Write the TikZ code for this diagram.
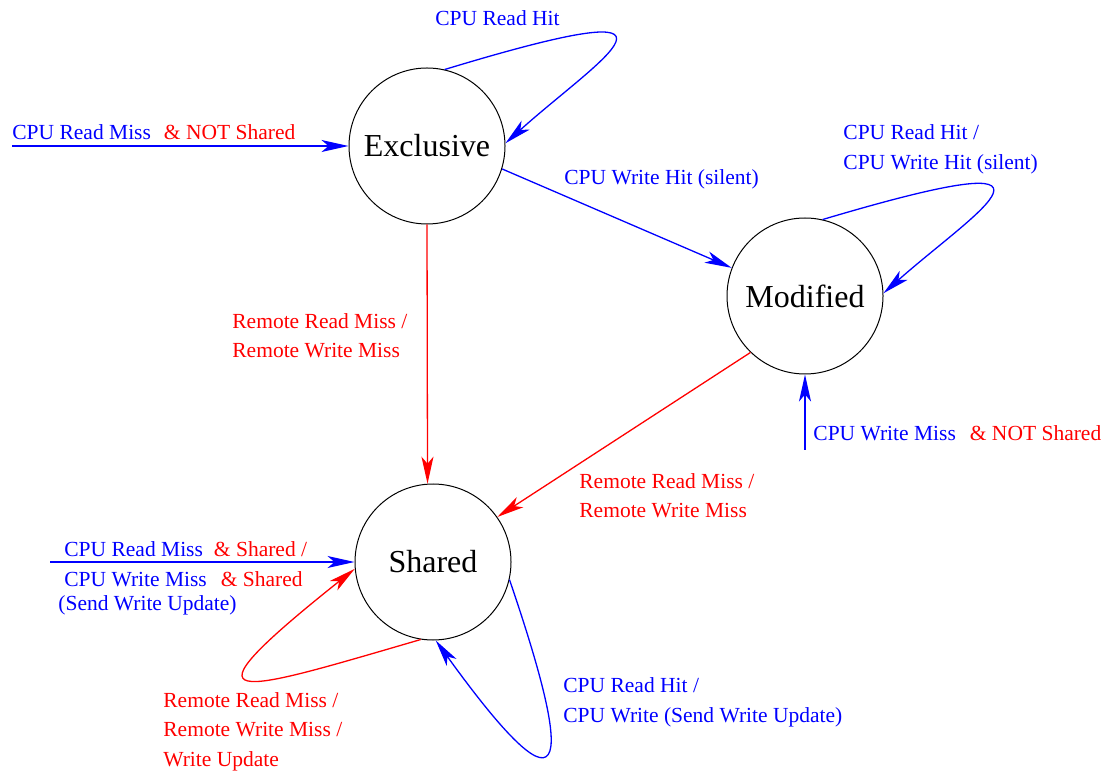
\documentclass[tikz,border=0pt]{standalone}
\usepackage{fontspec}
\setmainfont{Liberation Serif}
\usetikzlibrary{arrows.meta,positioning}

\tikzset{
  state/.style={circle,draw,line width=0.5pt,minimum size=78pt,inner sep=0pt,
    font=\fontsize{16}{19}\selectfont},
  trans/.style={line width=0.65pt,-{Stealth[length=13.5pt,width=6pt,inset=3.5pt]}},
  lbl/.style={anchor=base west,inner sep=0pt,font=\fontsize{10.75}{13}\selectfont},
}

\begin{document}
\begin{tikzpicture}[x=0.5pt,y=-0.5pt]
\useasboundingbox (0,0) rectangle (1107,774);
% states
\node[state] (E) at (427,146) {Exclusive};
\node[state] (M) at (805,296) {Modified};
\node[state] (S) at (433,562) {Shared};
% free ends of the entry arrows
\coordinate (inE) at (12,146);
\coordinate (inM) at (805,450);
\coordinate (inS) at (50,562);
% transitions
\draw[trans,blue] (inE) -- (E.west);
\draw[trans,blue] (E.77) .. controls (723,-15) and (598,60) .. (E.2);
\draw[trans,blue] (E.-17) -- (M.159);
\draw[trans,blue] (M.77) .. controls (1100,137) and (975,212) .. (M.2);
\draw[trans,blue] (inM) -- (M.south);
\draw[trans,red] (E.south) -- (S.94);
\draw[trans,red] (M.226) -- (S.35);
\draw[trans,blue] (inS) -- (S.west);
\draw[trans,red] (S.261) .. controls (237,693) and (170,716) .. (S.185);
\draw[trans,blue] (S.-13) .. controls (558,722) and (592,857) .. (S.-88);
% labels
\node[lbl,blue] (lE) at (12,140) {CPU Read Miss\hspace{6.5pt}\textcolor{red}{\& NOT Shared}};
\node[lbl,blue] (lEE) at (435,26) {CPU Read Hit};
\node[lbl,blue] (lEM) at (564,185) {CPU Write Hit (silent)};
\node[lbl,blue] (lMMa) at (843,140) {CPU Read Hit /};
\node[lbl,blue] (lMMb) at (843,170) {CPU Write Hit (silent)};
\node[lbl,blue] (lM) at (813,441) {CPU Write Miss\hspace{7pt}\textcolor{red}{\& NOT Shared}};
\node[lbl,red] (lESa) at (232,329) {Remote Read Miss /};
\node[lbl,red] (lESb) at (232,358) {Remote Write Miss};
\node[lbl,red] (lMSa) at (579,488) {Remote Read Miss /};
\node[lbl,red] (lMSb) at (579,517) {Remote Write Miss};
\node[lbl,blue] (lSa) at (64,556) {CPU Read Miss\hspace{5.5pt}\textcolor{red}{\& Shared /}};
\node[lbl,blue] (lSb) at (64,586) {CPU Write Miss\hspace{7pt}\textcolor{red}{\& Shared}};
\node[lbl,blue] (lSc) at (58,610) {(Send Write Update)};
\node[lbl,red] (lSSa) at (163,707) {Remote Read Miss /};
\node[lbl,red] (lSSb) at (163,736) {Remote Write Miss /};
\node[lbl,red] (lSSc) at (163,766) {Write Update};
\node[lbl,blue] (lSSd) at (563,692) {CPU Read Hit /};
\node[lbl,blue] (lSSe) at (563,722) {CPU Write (Send Write Update)};
\end{tikzpicture}
\end{document}
